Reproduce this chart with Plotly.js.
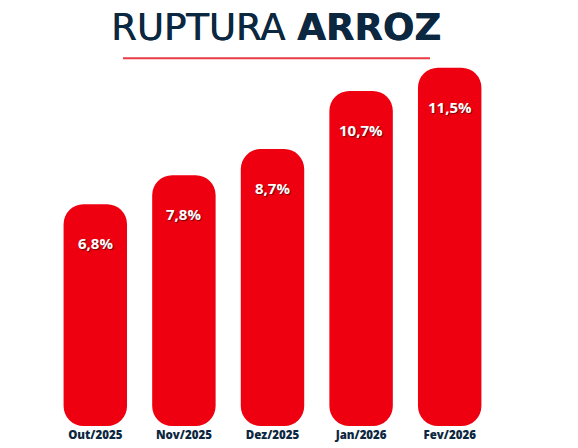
<!DOCTYPE html>
<html>
<head>
<meta charset="utf-8">
<script src="https://cdn.plot.ly/plotly-3.0.1.min.js"></script>
<style>html,body{margin:0;padding:0;background:#fff;}#chart{width:578px;height:448px;}</style>
</head>
<body>
<div id="chart"></div>
<script>
const categories = ["Out/2025", "Nov/2025", "Dez/2025", "Jan/2026", "Fev/2026"];
const values = [6.8, 7.8, 8.7, 10.7, 11.5];
const valueLabels = ["6,8%", "7,8%", "8,7%", "10,7%", "11,5%"];

const axisBase = -0.835;
const red = "#ee0010";
const navy = "#0c2740";

const trace = {
  type: "bar",
  x: categories,
  y: values.map(v => v - axisBase),
  base: axisBase,
  marker: {color: red, cornerradius: 20},
  hoverinfo: "skip"
};

const annotations = categories.map((c, i) => ({
  x: c, y: values[i], xref: "x", yref: "y",
  text: "<b>" + valueLabels[i] + "</b>",
  showarrow: false, yanchor: "middle", yshift: -39,
  font: {family: "Open Sans, sans-serif", size: 15, weight: 800, color: "#ffffff", shadow: "1px 1px 1px rgba(60,0,0,0.7)"}
}));

annotations.push({
  x: 0.5, y: 1, xref: "paper", yref: "paper",
  xanchor: "center", yanchor: "bottom", yshift: 9, xshift: 3,
  text: "RUPTURA <b>ARROZ</b>", showarrow: false,
  font: {family: "DejaVu Sans, sans-serif", size: 37, color: navy, shadow: "0.6px 0 0 #0c2740"}
});

const layout = {
  width: 578, height: 448,
  margin: {l: 51, r: 84, t: 60, b: 22},
  paper_bgcolor: "#ffffff", plot_bgcolor: "#ffffff",
  showlegend: false,
  bargap: 0.284,
  xaxis: {
    type: "category", range: [-0.5, 4.5],
    showgrid: false, zeroline: false, showline: false, ticks: "",
    tickfont: {family: "Open Sans, sans-serif", size: 11.5, color: navy, weight: 800},
    fixedrange: true
  },
  yaxis: {
    range: [axisBase, 11.765], visible: false, showgrid: false, zeroline: false, fixedrange: true
  },
  annotations: annotations,
  shapes: [{
    type: "line", xref: "paper", yref: "paper",
    x0: (123 - 51) / 443, x1: (430 - 51) / 443,
    y0: 1.005, y1: 1.005,
    line: {color: "#ea3a44", width: 2}
  }]
};

Plotly.newPlot("chart", [trace], layout, {displayModeBar: false, staticPlot: true});
</script>
</body>
</html>
